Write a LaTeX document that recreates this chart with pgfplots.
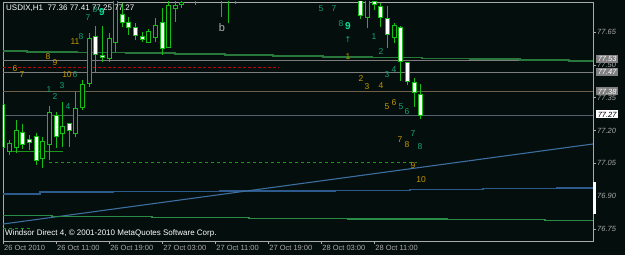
\documentclass[border=0pt]{standalone}
\usepackage{pgfplots}
\pgfplotsset{compat=1.18}
\usepackage{pgfplotstable}
\usepackage{fontspec}
\setmainfont{Liberation Sans}
\newfontfamily\symfont{DejaVu Sans}
\definecolor{bg}{RGB}{4,14,12}
\definecolor{cgreen}{RGB}{20,190,20}
\definecolor{dgreen}{RGB}{30,150,30}
\definecolor{upg}{RGB}{40,120,60}
\definecolor{lowg}{RGB}{40,140,70}
\definecolor{lblue}{RGB}{60,110,160}
\definecolor{dblue}{RGB}{45,90,140}
\definecolor{lgray}{RGB}{125,125,125}
\definecolor{brn}{RGB}{110,95,75}
\definecolor{bgray}{RGB}{85,95,110}
\definecolor{fr}{RGB}{170,170,170}
\definecolor{gold}{RGB}{200,150,0}
\definecolor{teal}{RGB}{20,165,115}
\definecolor{bright}{RGB}{0,225,155}
\definecolor{boxg}{RGB}{128,128,128}

% hollow (bullish) candles: i open high low close
\pgfplotstableread{
i o h l c
1 77.106 77.156 77.088 77.138
2 77.124 77.248 77.097 77.197
6 77.074 77.170 77.028 77.147
7 77.138 77.312 77.065 77.280
9 77.188 77.330 77.124 77.216
11 77.188 77.376 77.170 77.298
12 77.307 77.431 77.293 77.408
13 77.417 77.645 77.399 77.618
16 77.531 77.645 77.513 77.618
17 77.604 77.830 77.559 77.800
22 77.604 77.664 77.600 77.650
23 77.627 77.714 77.604 77.677
25 77.581 77.830 77.577 77.769
26 77.760 77.830 77.696 77.769
27 77.778 77.830 77.760 77.783
29 77.800 77.850 77.773 77.820
33 77.800 77.860 77.719 77.840
35 77.800 77.850 77.778 77.830
55 77.719 77.830 77.668 77.800
59 77.627 77.691 77.600 77.677
}\bull
% white (bearish) candles: i open high low close
\pgfplotstableread{
i o h l c
0 77.316 77.325 77.115 77.124
3 77.188 77.229 77.115 77.138
4 77.156 77.179 77.110 77.147
5 77.170 77.188 77.042 77.065
8 77.266 77.284 77.120 77.174
10 77.229 77.234 77.124 77.202
14 77.627 77.677 77.467 77.549
15 77.540 77.677 77.513 77.536
18 77.728 77.783 77.673 77.696
19 77.691 77.719 77.636 77.673
20 77.668 77.691 77.613 77.636
21 77.627 77.650 77.604 77.618
24 77.691 77.760 77.545 77.577
34 77.840 77.860 77.691 77.800
54 77.830 77.860 77.709 77.728
56 77.787 77.800 77.751 77.778
57 77.764 77.783 77.673 77.719
58 77.709 77.769 77.577 77.641
60 77.668 77.677 77.426 77.517
61 77.508 77.513 77.408 77.426
62 77.417 77.440 77.307 77.376
63 77.360 77.410 77.250 77.270
}\bear

\newcommand\lab[4]{\node[text=#1, font=\fontsize{8.5}{8.5}\selectfont, inner sep=0pt] at (#2,#3) {#4};}

\begin{document}
\begin{tikzpicture}
\fill[bg] (0,0) rectangle (625pt,255pt);
\useasboundingbox (0,0) rectangle (625pt,255pt);
\begin{axis}[
  at={(3pt,14pt)}, anchor=south west,
  scale only axis, width=590pt, height=239pt,
  xmin=0, xmax=89, ymin=76.6944, ymax=77.7872,
  axis line style={draw=fr, line width=0.8pt},
  tick align=outside, major tick length=3pt,
  tick style={draw=fr, line width=0.6pt},
  xtick pos=left, ytick pos=right, yticklabel pos=right,
  ytick={76.75,76.90,77.05,77.20,77.35,77.50,77.65},
  /pgf/number format/assume math mode=true,
  yticklabel style={/pgf/number format/.cd, fixed, fixed zerofill, precision=2, /tikz/.cd,
     font=\fontsize{7.5}{8}\selectfont\itshape, text=fr, anchor=west, inner sep=0pt, xshift=1pt},
  xtick={0,8,16,24,32,40,48,56},
  xticklabels={26 Oct 2010,26 Oct 11:00,26 Oct 19:00,27 Oct 03:00,27 Oct 11:00,27 Oct 19:00,28 Oct 03:00,28 Oct 11:00},
  xticklabel style={font=\fontsize{7.5}{8}\selectfont, text=fr, anchor=north west, inner sep=0pt, xshift=1pt, yshift=-1pt},
  clip=true,
]
% level lines
\addplot[lgray, line width=0.8pt] coordinates {(0,77.522) (89,77.522)};
\addplot[lgray, line width=0.8pt] coordinates {(0,77.467) (89,77.467)};
\addplot[brn, line width=0.8pt] coordinates {(0,77.380) (89,77.380)};
\addplot[bgray, line width=1.2pt] coordinates {(0,77.268) (89,77.268)};
\addplot[red!75!black, line width=0.8pt, dash pattern=on 3pt off 2pt] coordinates {(0,77.490) (41.5,77.490)};
% stepped channel lines
\addplot[upg, line width=1.4pt, const plot] coordinates {(0,77.563) (3.62,77.559) (11.16,77.556) (18.55,77.554) (25.94,77.549) (33.48,77.545) (40.72,77.540) (48.27,77.536) (55.66,77.534) (63.2,77.530) (70.44,77.527) (77.98,77.522) (85.37,77.517) (89,77.517)};
\addplot[dblue, line width=1.2pt, const plot] coordinates {(0,76.909) (5.58,76.918) (16.59,76.920) (32.73,76.923) (50.08,76.926) (61.39,76.931) (72.40,76.934) (83.56,76.937) (89,76.937)};
\addplot[lblue, line width=1.1pt] coordinates {(0,76.772) (89,77.138)};
\addplot[lowg, line width=1.2pt, const plot] coordinates {(0,76.810) (7.39,76.805) (22.47,76.803) (37.10,76.798) (52.04,76.795) (66.97,76.792) (81.75,76.789) (89,76.789)};
\addplot[dgreen, line width=0.8pt] coordinates {(1.06,77.106) (9.05,77.106)};
\addplot[dgreen, line width=0.8pt, dash pattern=on 3pt off 3pt] coordinates {(6.94,77.056) (62.44,77.056)};
\addplot[dgreen, line width=0.8pt, dash pattern=on 3pt off 3pt] coordinates {(0,76.752) (4.07,76.752)};
% wicks
\addplot[draw=none, mark=none, error bars/.cd, y dir=plus, y explicit, error mark=none,
  error bar style={draw=cgreen, line width=1pt}] table[x=i, y=l, y error expr=\thisrow{h}-\thisrow{l}] {\bull};
\addplot[draw=none, mark=none, error bars/.cd, y dir=plus, y explicit, error mark=none,
  error bar style={draw=cgreen, line width=1pt}] table[x=i, y=l, y error expr=\thisrow{h}-\thisrow{l}] {\bear};
% bodies: outline
\addplot[draw=none, mark=none, error bars/.cd, y dir=plus, y explicit, error mark=none,
  error bar style={draw=cgreen, line width=5pt}] table[x=i, y expr=\thisrow{o}-0.0046, y error expr=\thisrow{c}-\thisrow{o}+0.0092] {\bull};
\addplot[draw=none, mark=none, error bars/.cd, y dir=plus, y explicit, error mark=none,
  error bar style={draw=cgreen, line width=5pt}] table[x=i, y expr=\thisrow{c}-0.0046, y error expr=\thisrow{o}-\thisrow{c}+0.0092] {\bear};
% bodies: fill
\addplot[draw=none, mark=none, error bars/.cd, y dir=plus, y explicit, error mark=none,
  error bar style={draw=bg, line width=3pt}] table[x=i, y=o, y error expr=\thisrow{c}-\thisrow{o}] {\bull};
\addplot[draw=none, mark=none, error bars/.cd, y dir=plus, y explicit, error mark=none,
  error bar style={draw=white, line width=3pt}] table[x=i, y=c, y error expr=\thisrow{o}-\thisrow{c}] {\bear};
\end{axis}
\begin{scope}[x=1pt, y=-1pt, yshift=255pt]
% right edge bar and price boxes
\fill[white] (593,182) rectangle (595.6,214);
\node[fill=boxg, text=white, font=\fontsize{7.5}{8}\selectfont\itshape, inner sep=0pt, minimum width=22pt, minimum height=8pt, anchor=west] at (596,59) {77.53};
\node[fill=boxg, text=white, font=\fontsize{7.5}{8}\selectfont\itshape, inner sep=0pt, minimum width=22pt, minimum height=8pt, anchor=west] at (596,72) {77.47};
\node[fill=boxg, text=white, font=\fontsize{7.5}{8}\selectfont\itshape, inner sep=0pt, minimum width=22pt, minimum height=8pt, anchor=west] at (596,91.5) {77.38};
\node[fill=white, text=black, font=\fontsize{7.5}{8}\selectfont\itshape, inner sep=0pt, minimum width=22pt, minimum height=8pt, anchor=west] at (596,114.5) {77.27};
% title and copyright
\node[text=white, font=\fontsize{8}{8}\selectfont, inner sep=0pt, anchor=west] at (6,8.5) {USDIX,H1\ \ 77.36 77.41 77.25 77.27};
\node[text=white, font=\fontsize{8}{8}\selectfont, inner sep=0pt, anchor=west] at (5,233) {Windsor Direct 4, \textcopyright{} 2001-2010 MetaQuotes Software Corp.};
\node[text=lgray!60!white, font=\fontsize{11}{11}\selectfont, inner sep=0pt] at (222,28) {b};
% wave counts, teal
\lab{teal}{88}{18}{7}
\lab{teal}{95}{10}{8}
\node[text=bright, font=\fontsize{10}{10}\selectfont\bfseries, inner sep=0pt] at (102,12) {9};
\lab{teal}{81}{37}{8}
\lab{teal}{75}{75}{6}
\lab{teal}{49}{90}{1}
\lab{teal}{62}{86}{3}
\lab{teal}{55}{97}{2}
\lab{teal}{68}{107}{4}
\lab{teal}{321}{9}{5}
\lab{teal}{334}{9}{7}
\lab{teal}{341}{24}{8}
\node[text=bright, font=\fontsize{10}{10}\selectfont\bfseries, inner sep=0pt] at (348,26) {9};
\node[text=teal, font=\symfont\fontsize{8}{8}\selectfont, inner sep=0pt] at (348,40) {↑};
\lab{teal}{374}{37}{1}
\lab{teal}{381}{52}{2}
\lab{teal}{394}{70}{4}
\lab{teal}{387}{75}{3}
\lab{teal}{401}{107}{5}
\lab{teal}{407}{112}{6}
\lab{teal}{413}{134}{7}
\lab{teal}{420}{147}{8}
% wave counts, gold
\lab{gold}{75}{42}{11}
\lab{gold}{48}{57}{8}
\lab{gold}{55}{63}{9}
\lab{gold}{15}{69}{6}
\lab{gold}{22}{75}{7}
\lab{gold}{67}{75}{10}
\lab{gold}{348}{57}{1}
\lab{gold}{361}{79}{2}
\lab{gold}{367}{87}{3}
\lab{gold}{381}{86}{4}
\lab{gold}{387}{107}{5}
\lab{gold}{394}{103}{6}
\lab{gold}{400}{140}{7}
\lab{gold}{407}{145}{8}
\lab{gold}{413}{166}{9}
\lab{gold}{421}{180}{10}
\end{scope}
\end{tikzpicture}
\end{document}
